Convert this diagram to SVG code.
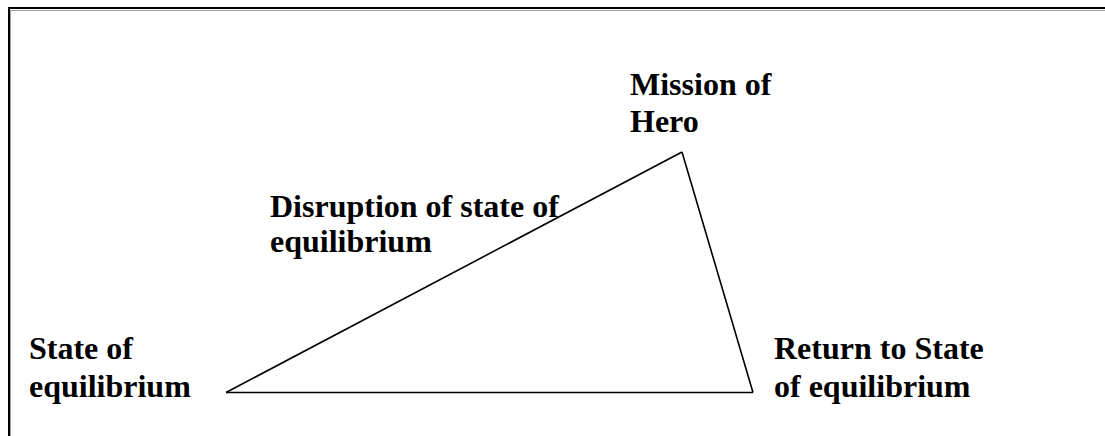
<svg xmlns="http://www.w3.org/2000/svg" width="1105" height="436" viewBox="0 0 1105 436">
  <style>
    .label { font-family: "Liberation Serif", "Times New Roman", serif; font-weight: bold; font-size: 32px; fill: #000; }
    .edge { fill: none; stroke: #000; stroke-width: 1.6; stroke-linejoin: miter; }
  </style>
  <rect width="1105" height="436" fill="#fff"/>
  <!-- page frame -->
  <g id="frame">
    <path d="M10.5,436 V10.5 H1105" fill="none" stroke="#a0a0a0" stroke-width="1"/>
    <path d="M9,436 V8 H1105" fill="none" stroke="#000" stroke-width="2"/>
  </g>
  <!-- triangle sides -->
  <g id="connectors">
    <line class="edge" x1="226" y1="392.5" x2="682" y2="152"/>
    <line class="edge" x1="682" y1="152" x2="753" y2="392.5"/>
    <line class="edge" x1="226" y1="392.5" x2="753" y2="392.5"/>
  </g>
  <g id="node-start">
    <text class="label" x="29" y="359">State of</text>
    <text class="label" x="29" y="397">equilibrium</text>
  </g>
  <g id="node-disruption">
    <text class="label" x="270" y="217">Disruption of state of</text>
    <text class="label" x="270" y="252">equilibrium</text>
  </g>
  <g id="node-mission">
    <text class="label" x="630" y="95">Mission of</text>
    <text class="label" x="630" y="132">Hero</text>
  </g>
  <g id="node-return">
    <text class="label" x="774" y="359">Return to State</text>
    <text class="label" x="774" y="397">of equilibrium</text>
  </g>
</svg>
